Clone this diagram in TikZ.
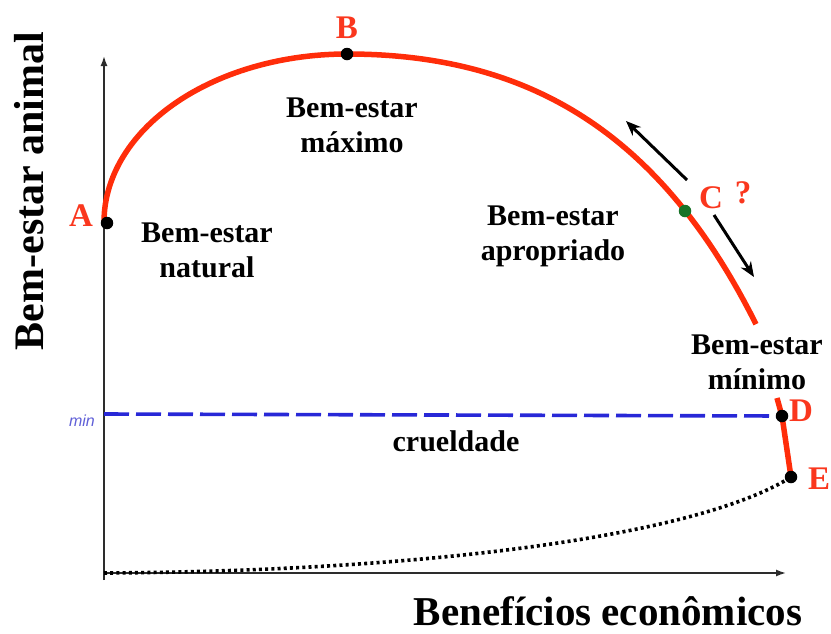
\documentclass[tikz,border=0pt]{standalone}
\usepackage{fontspec}
\setmainfont{Liberation Serif}
\setsansfont{Liberation Sans}
\usetikzlibrary{arrows.meta}
\definecolor{curvered}{RGB}{255,45,10}
\definecolor{lblred}{RGB}{250,55,30}
\definecolor{dashblue}{RGB}{40,40,215}
\definecolor{minblue}{RGB}{95,95,215}
\definecolor{cgreen}{RGB}{25,115,40}
\definecolor{axisgray}{RGB}{45,45,45}
\begin{document}
\begin{tikzpicture}[x=1pt,y=-1pt,
  lbl/.style={font=\fontsize{30}{35}\selectfont\bfseries, align=center, text=black, inner sep=0pt, anchor=base},
  ptlbl/.style={font=\fontsize{33}{33}\selectfont\bfseries, text=lblred, inner sep=0pt, anchor=base},
  dotnode/.style={circle, fill=black, inner sep=0pt, minimum size=12.5pt},
  axisline/.style={draw=axisgray, line width=1.5pt, -{Latex[length=10pt,width=7pt]}},
  redcurve/.style={draw=curvered, line width=5.5pt},
  movearrow/.style={draw=black, line width=3pt, -{Stealth[length=15pt,width=12pt]}},
  minline/.style={draw=dashblue, line width=3.6pt, dash pattern=on 25pt off 7pt},
  dotline/.style={draw=black, line width=3.6pt, dash pattern=on 3pt off 3.2pt}]
\useasboundingbox (0,0) rectangle (831,633);

% axes
\coordinate (O) at (104,573);
\coordinate (Ytop) at (104,56);
\coordinate (Xend) at (786,573);
\coordinate (Ybot) at (104,580);
\draw[axisline] (Ybot) -- (Ytop);
\draw[axisline] (O) -- (Xend);

% main welfare curve: A -> B (quarter ellipse), B -> C -> end
\draw[redcurve] plot[domain=180:90, samples=60] ({347+243*cos(\x)},{222-168*sin(\x)})
  -- plot[domain=0:409, samples=70] ({347+\x},{54+\x*(\x/(1256-1.557*\x))});

% lower segment D-E
\coordinate (Dtop) at (777,398);
\coordinate (Dpt) at (782,416);
\coordinate (Ept) at (791,477);
\draw[redcurve] (Dtop) -- (Dpt) -- (Ept);

% min line
\coordinate (Mstart) at (104,414);
\draw[minline] (Mstart) -- (Dpt);
\node[font=\fontsize{16}{16}\selectfont\sffamily\itshape, text=minblue, inner sep=0pt] (minlbl) at (82,421) {min};

% dotted curve
\draw[dotline] (O) .. controls (450,571) and (705,532) .. (Ept);

% points
\node[dotnode] (A) at (107,223) {};
\node[dotnode] (B) at (347,54) {};
\node[dotnode, fill=cgreen] (C) at (685,211) {};
\node[dotnode] (D) at (Dpt) {};
\node[dotnode] (E) at (Ept) {};

% point labels
\node[ptlbl] (Alb) at (81,226) {A};
\node[ptlbl] (Blb) at (347,38) {B};
\node[ptlbl] (Clb) at (711,208) {C};
\node[ptlbl] (Qlb) at (743,203) {?};
\node[ptlbl] (Dlb) at (801,421) {D};
\node[ptlbl] (Elb) at (819,489) {E};

% movement arrows
\coordinate (U1) at (687,180);
\coordinate (U2) at (626,121);
\coordinate (W1) at (714,215);
\coordinate (W2) at (754,277);
\draw[movearrow] (U1) -- (U2);
\draw[movearrow] (W1) -- (W2);

% region labels (anchor base = baseline of last line)
\node[lbl] (maximo) at (352,152) {Bem-estar\\máximo};
\node[lbl] (natural) at (207,277) {Bem-estar\\natural};
\node[lbl] (apropriado) at (553,260) {Bem-estar\\apropriado};
\node[lbl] (minimo) at (757,389) {Bem-estar\\mínimo};
\node[lbl] (crueldade) at (456,451) {crueldade};

% axis titles
\node[font=\fontsize{42}{42}\selectfont\bfseries, inner sep=0pt, anchor=base, rotate=90] (ytitle) at (43,191) {Bem-estar animal};
\node[font=\fontsize{41}{41}\selectfont\bfseries, inner sep=0pt, text depth=0pt, anchor=base] (xtitle) at (608,625) {Benefícios econômicos};
\end{tikzpicture}
\end{document}
